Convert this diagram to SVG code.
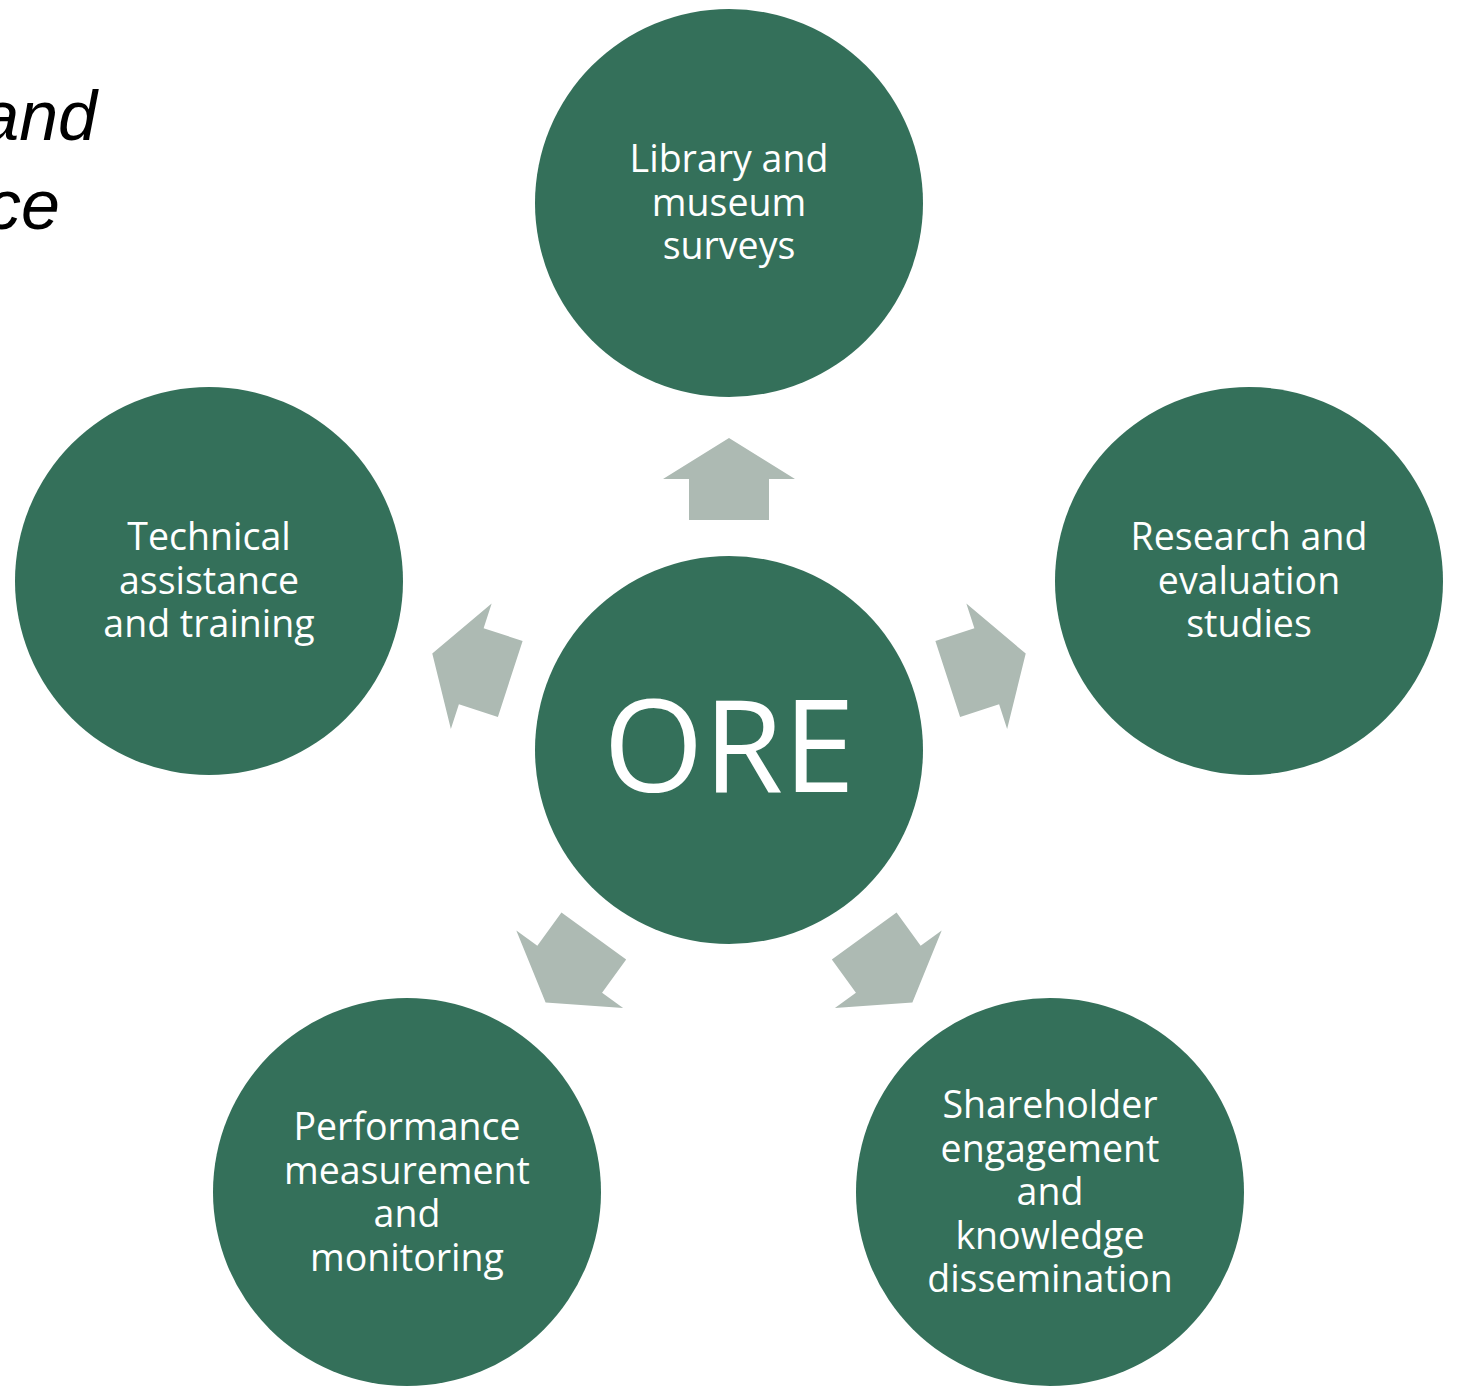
<svg xmlns="http://www.w3.org/2000/svg" width="1457" height="1386" viewBox="0 0 1457 1386">
<style>
.node{fill:#34705a}
.arrow{fill:#adbab3}
.lbl{font-family:"Open Sans","Noto Sans",sans-serif;font-size:37.5px;fill:#ffffff;text-anchor:middle}
.big{font-family:"Open Sans","Noto Sans",sans-serif;font-size:129px;fill:#ffffff;text-anchor:middle}
.title{font-family:"Liberation Sans",Arial,sans-serif;font-size:70px;fill:#000000;font-style:italic;text-anchor:end}
</style>
<defs>
<polygon id="arr" points="729,438 795,479 769,479 769,520 689,520 689,479 663,479"/>
</defs>
<rect width="1457" height="1386" fill="#ffffff"/>
<text class="title" x="97" y="140">and</text>
<text class="title" x="60" y="229">ce</text>
<g id="connectors" class="arrow">
<use href="#arr"/>
<use href="#arr" transform="rotate(72 729 750)"/>
<use href="#arr" transform="rotate(144 729 750)"/>
<use href="#arr" transform="rotate(216 729 750)"/>
<use href="#arr" transform="rotate(288 729 750)"/>
</g>
<g id="node-ore"><circle class="node" cx="729" cy="750" r="194"/><text class="big" x="729" y="792">ORE</text></g>
<g id="node-library"><circle class="node" cx="729" cy="203" r="194"/>
<text class="lbl" x="729" y="172">Library and</text><text class="lbl" x="729" y="216">museum</text><text class="lbl" x="729" y="259">surveys</text></g>
<g id="node-research"><circle class="node" cx="1249" cy="581" r="194"/>
<text class="lbl" x="1249" y="550">Research and</text><text class="lbl" x="1249" y="594">evaluation</text><text class="lbl" x="1249" y="637">studies</text></g>
<g id="node-technical"><circle class="node" cx="209" cy="581" r="194"/>
<text class="lbl" x="209" y="550">Technical</text><text class="lbl" x="209" y="594">assistance</text><text class="lbl" x="209" y="637">and training</text></g>
<g id="node-performance"><circle class="node" cx="407" cy="1192" r="194"/>
<text class="lbl" x="407" y="1140">Performance</text><text class="lbl" x="407" y="1184">measurement</text><text class="lbl" x="407" y="1227">and</text><text class="lbl" x="407" y="1271">monitoring</text></g>
<g id="node-shareholder"><circle class="node" cx="1050" cy="1192" r="194"/>
<text class="lbl" x="1050" y="1118">Shareholder</text><text class="lbl" x="1050" y="1162">engagement</text><text class="lbl" x="1050" y="1205">and</text><text class="lbl" x="1050" y="1249">knowledge</text><text class="lbl" x="1050" y="1292">dissemination</text></g>
</svg>
